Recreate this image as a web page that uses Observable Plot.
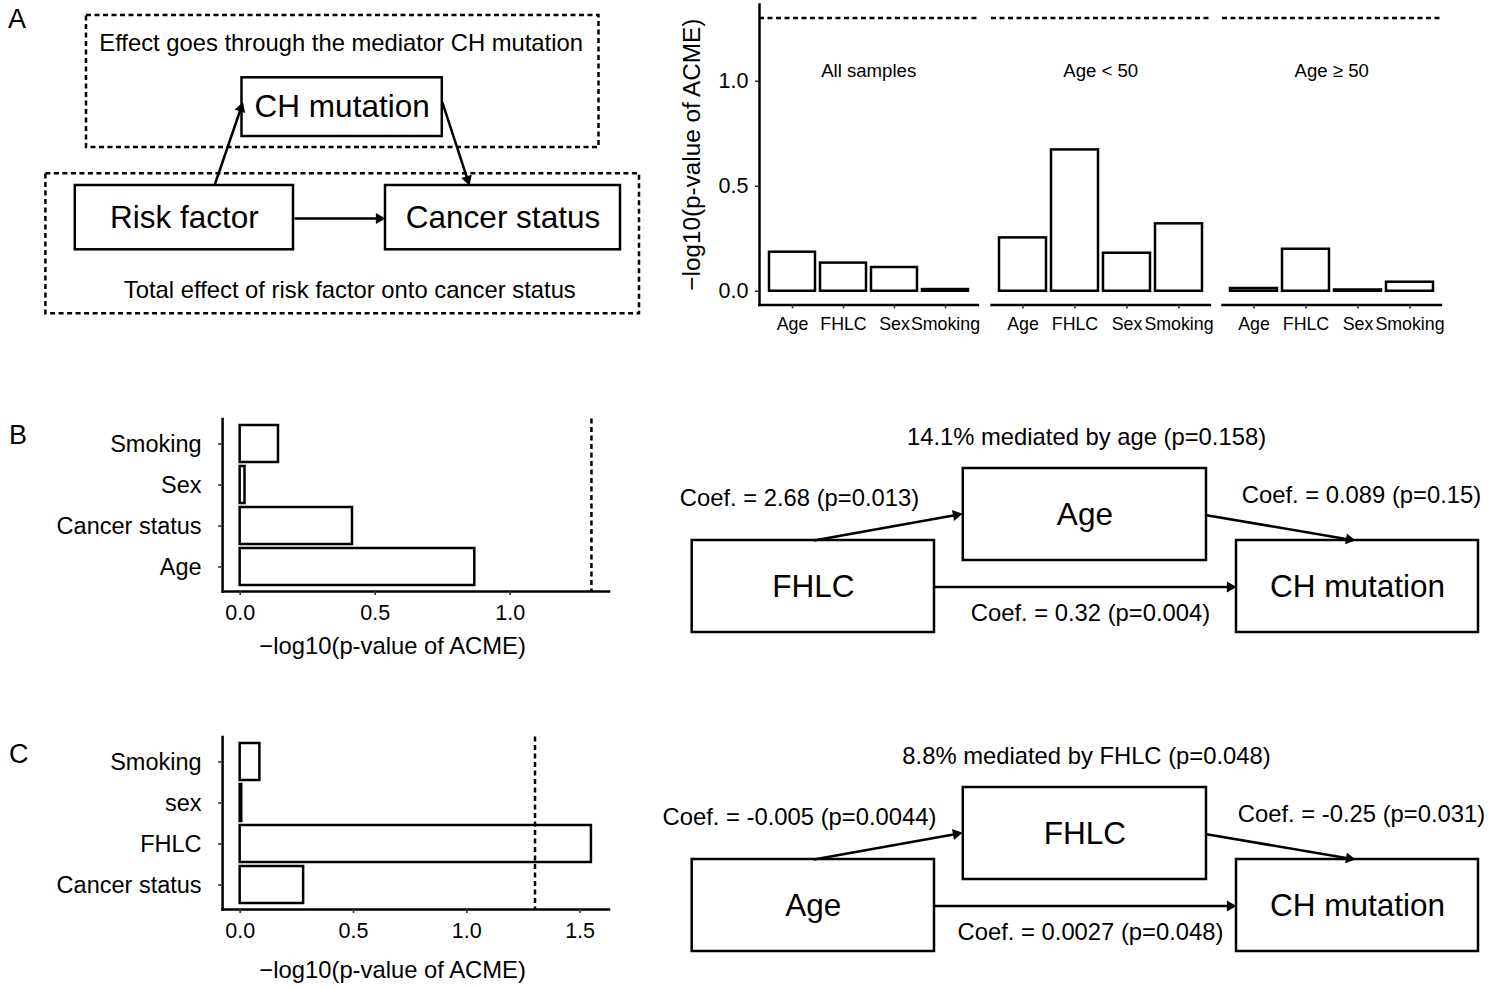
<!DOCTYPE html>
<html>
<head>
<meta charset="utf-8">
<script src="https://cdn.jsdelivr.net/npm/d3@7"></script>
<script src="https://cdn.jsdelivr.net/npm/@observablehq/plot@0.6"></script>
<style>
  body { margin: 0; background: #fff; font-family: "Liberation Sans", Arial, sans-serif; }
  #page { position: relative; width: 1508px; height: 989px; overflow: hidden; background: #fff; }
  .pane { position: absolute; }
  .letter { position: absolute; font-size: 27px; line-height: 1; color: #000; }
</style>
</head>
<body>
<div id="page"></div>
<script>
// ---------------- DATA ----------------
const groupsA = ["All samples", "Age < 50", "Age ≥ 50"];
const factorsA = ["Age", "FHLC", "Sex", "Smoking"];
const valuesAll = [0.186, 0.134, 0.113, 0.008];
const valuesYoung = [0.254, 0.673, 0.181, 0.321];
const valuesOld = [0.013, 0.200, 0.006, 0.043];
const yTicksA = [0, 0.5, 1.0];
const threshold = -Math.log10(0.05); // p = 0.05 line

const factorsB = ["Smoking", "Sex", "Cancer status", "Age"];
const valuesB = [0.142, 0.018, 0.416, 0.869];
const xTicksB = [0, 0.5, 1.0];

const factorsC = ["Smoking", "sex", "FHLC", "Cancer status"];
const valuesC = [0.087, 0.007, 1.55, 0.28];
const xTicksC = [0, 0.5, 1.0, 1.5];

const axisTitle = "−log10(p-value of ACME)";

// Diagram texts
const diagA = {
  boxes: ["CH mutation", "Risk factor", "Cancer status"],
  notes: ["Effect goes through the mediator CH mutation", "Total effect of risk factor onto cancer status"]
};
const diagB = {
  title: "14.1% mediated by age (p=0.158)",
  boxes: ["Age", "FHLC", "CH mutation"],
  coefs: ["Coef. = 2.68 (p=0.013)", "Coef. = 0.089 (p=0.15)", "Coef. = 0.32 (p=0.004)"]
};
const diagC = {
  title: "8.8% mediated by FHLC (p=0.048)",
  boxes: ["FHLC", "Age", "CH mutation"],
  coefs: ["Coef. = -0.005 (p=0.0044)", "Coef. = -0.25 (p=0.031)", "Coef. = 0.0027 (p=0.048)"]
};

// ---------------- LAYOUT (page pixels) ----------------
const font = "'Liberation Sans', Arial, sans-serif";
const baseStyle = {fontFamily: font, background: "transparent", color: "black", overflow: "visible"};
const LW = 2.5;           // line width
const DASH = "5,3.5";     // dashed pattern
const TXT = 23.8;         // general text size
const page = document.getElementById("page");
function place(node, left, top) {
  const d = document.createElement("div");
  d.className = "pane";
  d.style.left = left + "px";
  d.style.top = top + "px";
  d.appendChild(node);
  page.appendChild(d);
}
function letter(t, left, top) {
  const d = document.createElement("div");
  d.className = "letter";
  d.textContent = t;
  d.style.left = left + "px";
  d.style.top = top + "px";
  page.appendChild(d);
}

// ---------------- PANEL A: bar chart (three groups) ----------------
const groupValues = [valuesAll, valuesYoung, valuesOld];
const startsA = [759, 990.5, 1222];
const facetW = 218.4;
const frameTopA = 3.9, frameBottomA = 304.4, heightA = 350;
const yDomainA = [-0.065, 1.366];

groupValues.forEach((vals, i) => {
  const rows = factorsA.map((f, j) => ({factor: f, value: vals[j]}));
  const first = i === 0;
  const mL = first ? 100 : 3;
  const chart = Plot.plot({
    width: mL + facetW + 3,
    height: heightA,
    marginLeft: mL,
    marginRight: 3,
    marginTop: frameTopA,
    marginBottom: heightA - frameBottomA,
    style: baseStyle,
    x: {domain: factorsA, paddingInner: 0.1, paddingOuter: 0.15, label: null},
    y: {domain: yDomainA, label: null, axis: null},
    marks: [
      Plot.barY(rows, {x: "factor", y: "value", fill: "white", stroke: "black", strokeWidth: LW}),
      Plot.ruleY([threshold], {stroke: "black", strokeWidth: LW, strokeDasharray: DASH}),
      Plot.text([groupsA[i]], {frameAnchor: "top", lineAnchor: "middle", dy: 67, fontSize: 18.6, fill: "black"}),
      Plot.frame({anchor: "bottom", stroke: "black", strokeWidth: LW}),
      first ? Plot.frame({anchor: "left", stroke: "black", strokeWidth: LW}) : null,
      Plot.axisX({tickSize: 4, tickPadding: 8, fontSize: 17.8, stroke: "#333", strokeWidth: 1.6, label: null}),
      first ? Plot.axisY(yTicksA, {tickSize: 4, tickPadding: 7, fontSize: 21.5, tickFormat: d3.format(".1f"), stroke: "#333", strokeWidth: 1.6, label: null}) : null,
      first ? Plot.text([axisTitle], {frameAnchor: "left", textAnchor: "middle", lineAnchor: "middle", rotate: -90, dx: -67, fontSize: 24.3, fill: "black"}) : null
    ]
  });
  place(chart, startsA[i] - mL, 0);
});

// ---------------- PANELS B & C: horizontal bar charts ----------------
function hbar(factors, values, ticks, xDomain, titleDy) {
  const rows = factors.map((f, j) => ({factor: f, value: values[j]}));
  const H = 265, frameL = 222.1, frameR = 608.5, W = 640;
  return Plot.plot({
    width: W,
    height: H,
    marginLeft: frameL,
    marginRight: W - frameR,
    marginTop: 18.5,
    marginBottom: H - 18.5 - 172.5,
    style: baseStyle,
    x: {domain: xDomain, label: null},
    y: {domain: factors, paddingInner: 0.1, paddingOuter: 0.15, label: null},
    marks: [
      Plot.barX(rows, {y: "factor", x: "value", fill: "white", stroke: "black", strokeWidth: LW}),
      Plot.ruleX([threshold], {stroke: "black", strokeWidth: LW, strokeDasharray: DASH}),
      Plot.frame({anchor: "left", stroke: "black", strokeWidth: LW}),
      Plot.frame({anchor: "bottom", stroke: "black", strokeWidth: LW}),
      Plot.axisX(ticks, {tickSize: 4, tickPadding: 9.5, fontSize: 21.5, tickFormat: d3.format(".1f"), stroke: "#333", strokeWidth: 1.6, label: null}),
      Plot.axisY({tickSize: 4, tickPadding: 17, fontSize: 23.5, stroke: "#333", strokeWidth: 1.6, label: null}),
      Plot.text([axisTitle], {frameAnchor: "bottom-left", textAnchor: "middle", lineAnchor: "middle", dx: 170, dy: titleDy, fontSize: TXT, fill: "black"})
    ]
  });
}
place(hbar(factorsB, valuesB, xTicksB, [-0.065, 1.366], 55), 0, 400);
place(hbar(factorsC, valuesC, xTicksC, [-0.0775, 1.6275], 61), 0, 718);

// ---------------- DIAGRAMS ----------------
const headR = 5.3;
const headS = 0.6824 * Math.sqrt(Math.PI * headR * headR);
function diagram({x0, y0, w, h, dashed = [], boxes, labels, arrows}) {
  const shafts = arrows.map(a => {
    const dx = a.x2 - a.x1, dy = a.y2 - a.y1, L = Math.hypot(dx, dy);
    return {x1: a.x1, y1: a.y1, x2: a.x2 - dx / L * headS, y2: a.y2 - dy / L * headS};
  });
  const heads = arrows.map(a => {
    const dx = a.x2 - a.x1, dy = a.y2 - a.y1, L = Math.hypot(dx, dy);
    return {x: a.x2 - dx / L * headS, y: a.y2 - dy / L * headS, angle: Math.atan2(dx, -dy) * 180 / Math.PI};
  });
  return Plot.plot({
    width: w, height: h, margin: 0,
    style: baseStyle,
    x: {domain: [x0, x0 + w], range: [0, w], axis: null},
    y: {domain: [y0, y0 + h], range: [0, h], axis: null},
    marks: [
      Plot.rect(dashed, {x1: "x1", x2: "x2", y1: "y1", y2: "y2", fill: "none", stroke: "black", strokeWidth: LW, strokeDasharray: DASH}),
      Plot.rect(boxes, {x1: "x1", x2: "x2", y1: "y1", y2: "y2", fill: "white", stroke: "black", strokeWidth: LW}),
      Plot.link(shafts, {x1: "x1", y1: "y1", x2: "x2", y2: "y2", stroke: "black", strokeWidth: LW}),
      Plot.dot(heads, {x: "x", y: "y", symbol: "triangle2", r: headR, rotate: "angle", fill: "black", stroke: "none"}),
      Plot.text(boxes, {x: d => (d.x1 + d.x2) / 2, y: d => (d.y1 + d.y2) / 2, text: "label", fontSize: 31.5, fill: "black"}),
      Plot.text(labels, {x: "x", y: "y", text: "text", fontSize: TXT, fill: "black"})
    ]
  });
}

// Panel A diagram
place(diagram({
  x0: 0, y0: 0, w: 660, h: 330,
  dashed: [{x1: 86, x2: 598.5, y1: 15, y2: 147}, {x1: 45.4, x2: 639, y1: 173.3, y2: 313.3}],
  boxes: [
    {label: diagA.boxes[0], x1: 241.5, x2: 441.8, y1: 77.3, y2: 136},
    {label: diagA.boxes[1], x1: 74.8, x2: 293, y1: 185, y2: 249.3},
    {label: diagA.boxes[2], x1: 385, x2: 620, y1: 185, y2: 249.3}
  ],
  labels: [
    {text: diagA.notes[0], x: 340.6, y: 42.7},
    {text: diagA.notes[1], x: 349.3, y: 290}
  ],
  arrows: [
    {x1: 294, y1: 218, x2: 385, y2: 218},
    {x1: 214, y1: 185, x2: 242.5, y2: 101.7},
    {x1: 441.8, y1: 101.7, x2: 469, y2: 185}
  ]
}), 0, 0);

// Mediation diagrams B and C (same layout, shifted)
function mediation(d, dy) {
  return diagram({
    x0: 640, y0: 410 + dy, w: 868, h: 250,
    boxes: [
      {label: d.boxes[0], x1: 962.8, x2: 1206, y1: 468 + dy, y2: 560 + dy},
      {label: d.boxes[1], x1: 691.7, x2: 934, y1: 540 + dy, y2: 632 + dy},
      {label: d.boxes[2], x1: 1236, x2: 1478, y1: 540 + dy, y2: 632 + dy}
    ],
    labels: [
      {text: d.title, x: 1086, y: 437 + dy},
      {text: d.coefs[0], x: 799, y: 497.5 + dy},
      {text: d.coefs[1], x: 1361, y: 495 + dy},
      {text: d.coefs[2], x: 1090, y: 612.5 + dy}
    ],
    arrows: [
      {x1: 813.3, y1: 540 + dy, x2: 962, y2: 513.3 + dy},
      {x1: 1206, y1: 514.8 + dy, x2: 1355, y2: 540 + dy},
      {x1: 934, y1: 586.5 + dy, x2: 1236, y2: 586.5 + dy}
    ]
  });
}
place(mediation(diagB, 0), 640, 410);
place(mediation(diagC, 319), 640, 729);

// Panel letters
letter("A", 8, 6);
letter("B", 9, 422);
letter("C", 9, 741);
</script>
</body>
</html>
